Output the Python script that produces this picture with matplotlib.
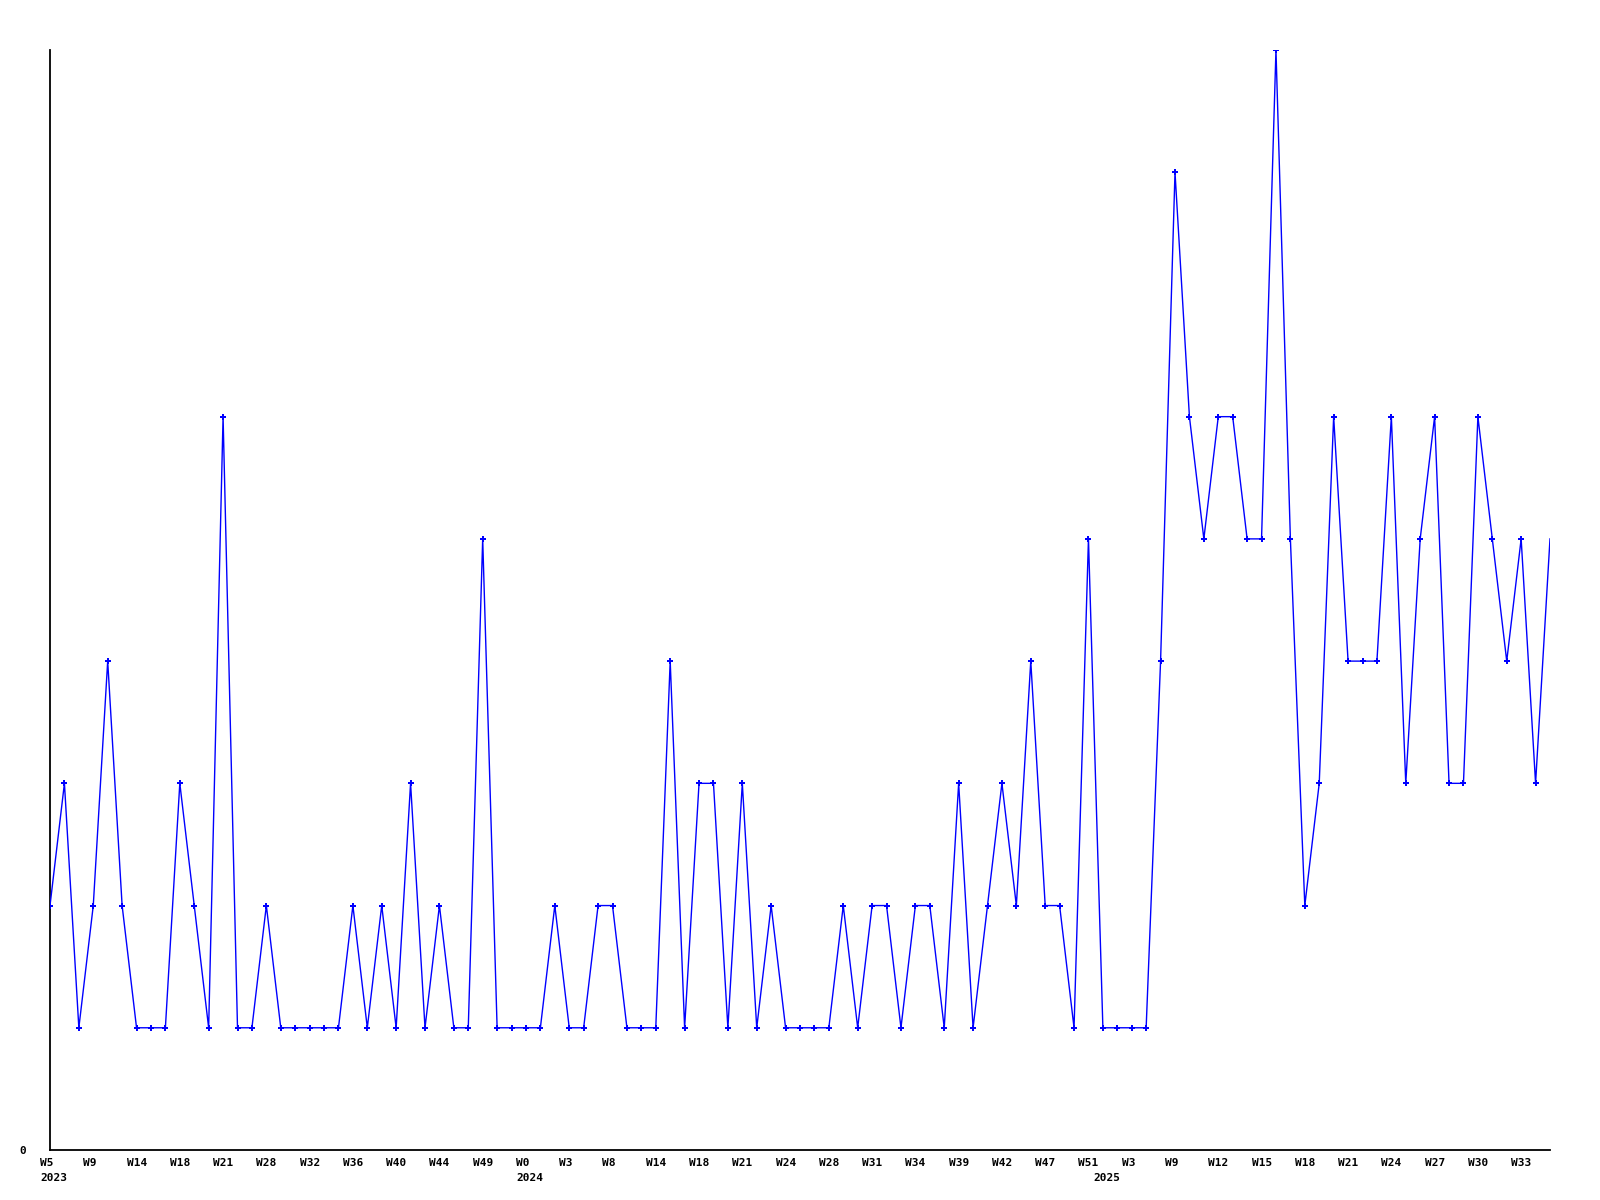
import matplotlib
matplotlib.use("Agg")
import matplotlib.pyplot as plt
import matplotlib.transforms as mtransforms

values = [2, 3, 1, 2, 4, 2, 1, 1, 1, 3, 2, 1, 6, 1, 1, 2, 1, 1, 1, 1,
          1, 2, 1, 2, 1, 3, 1, 2, 1, 1, 5, 1, 1, 1, 1, 2, 1, 1, 2, 2,
          1, 1, 1, 4, 1, 3, 3, 1, 3, 1, 2, 1, 1, 1, 1, 2, 1, 2, 2, 1,
          2, 2, 1, 3, 1, 2, 3, 2, 4, 2, 2, 1, 5, 1, 1, 1, 1, 4, 8, 6,
          5, 6, 6, 5, 5, 9, 5, 2, 3, 6, 4, 4, 4, 6, 3, 5, 6, 3, 3, 6,
          5, 4, 5, 3, 5]

week_labels = ["W5", "W9", "W14", "W18", "W21", "W28", "W32", "W36", "W40", "W44",
               "W49", "W0", "W3", "W8", "W14", "W18", "W21", "W24", "W28", "W31",
               "W34", "W39", "W42", "W47", "W51", "W3", "W9", "W12", "W15", "W18",
               "W21", "W24", "W27", "W30", "W33"]
label_step = 3

year_labels = ["2023", "2024", "2025"]
year_positions = [0, 33, 73]

fig = plt.figure(figsize=(16, 12), dpi=100)
ax = fig.add_axes([50 / 1600, 50 / 1200, 1500 / 1600, 1100 / 1200])

x = list(range(len(values)))
ax.plot(x, values, color="#0000ff", linewidth=1.0, zorder=3)
ax.plot(x[:-1], values[:-1], linestyle="none", marker="P", markersize=4,
        color="#0000ff", markeredgewidth=0, zorder=4)

ax.set_xlim(0, len(values) - 1)
ax.set_ylim(0, 9)
ax.spines["top"].set_visible(False)
ax.spines["right"].set_visible(False)
ax.spines["left"].set_linewidth(1.3)
ax.spines["bottom"].set_linewidth(1.3)
ax.set_xticks([])
ax.set_yticks([])

font = dict(family="DejaVu Sans Mono", fontweight="bold", fontsize=8)
offset = mtransforms.ScaledTranslation(-10 / 100, 0, fig.dpi_scale_trans)
trans = mtransforms.blended_transform_factory(ax.transData, fig.transFigure) + offset

for i, lab in enumerate(week_labels):
    ax.text(i * label_step, 1 - 1163 / 1200, lab, transform=trans,
            ha="left", va="center", clip_on=False, **font)

for pos, lab in zip(year_positions, year_labels):
    ax.text(pos, 1 - 1178 / 1200, lab, transform=trans,
            ha="left", va="center", clip_on=False, **font)

fig.text(26 / 1600, 1 - 1151 / 1200, "0", ha="right", va="center", **font)

fig.savefig("out.png", dpi=100, facecolor="white")
